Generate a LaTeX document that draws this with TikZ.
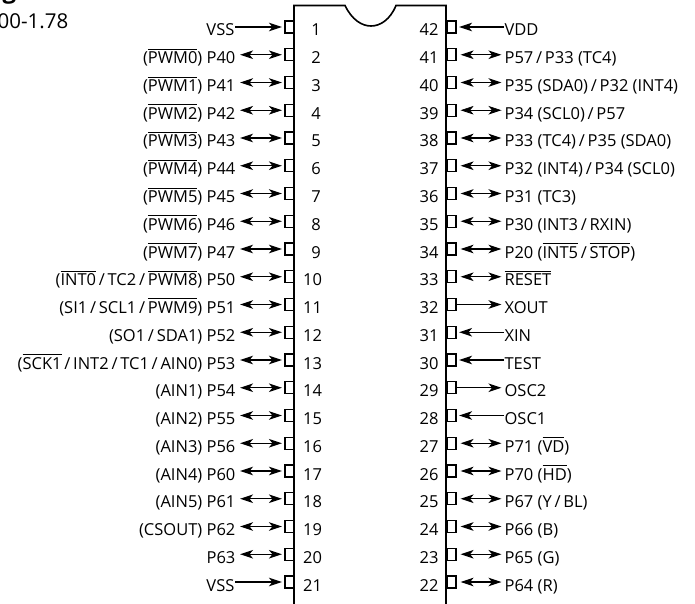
\documentclass[tikz,border=0pt]{standalone}
\usepackage{fontspec}
\setmainfont{Open Sans}
\usetikzlibrary{arrows.meta}
\newcommand{\ovl}[1]{\vbox{\hrule height 0.9pt\kern 2.2pt\hbox{#1}}}
\tikzset{
  pinbox/.style={draw,line width=1.1pt,minimum width=9pt,minimum height=12pt,inner sep=0pt},
  lab/.style={inner sep=0pt,text height=18pt,text depth=0pt,font=\fontsize{16.5}{16.5}\selectfont},
  llab/.style={lab,anchor=east},
  rlab/.style={lab,anchor=west},
  num/.style={lab,anchor=center},
  bi/.style={<->,shorten <=4pt,shorten >=2.5pt},
  uni/.style={->,shorten >=2.5pt},
}
\begin{document}
\begin{tikzpicture}[x=1pt,y=-1pt,line width=1.2pt,>={Stealth[length=13pt,width=8.5pt,inset=3.5pt]}]
\useasboundingbox (0,0) rectangle (695,604);
\clip (0,0) rectangle (695,604);
\node[anchor=base west,inner sep=0pt,font=\fontsize{24}{24}\selectfont\bfseries] (title) at (2,-1) {g};
\node[anchor=base west,inner sep=0pt,font=\fontsize{20.5}{20.5}\selectfont] (part) at (-3,29) {00-1.78};
\draw[line width=1.6pt] (294,604) -- (294,5.5) -- (345,5.5) .. controls (352,20) and (362,26) .. (371,26) .. controls (380,26) and (390,20) .. (396,5.5) -- (446,5.5) -- (446,604);
% left side
\node[pinbox] (b1) at (289.5,27) {}; \node[llab] (l1) at (235,27) {VSS}; \node[num] (n1) at (316,27) {1}; \draw[uni] (l1) -- (b1);
\node[pinbox] (b2) at (289.5,54.75) {}; \node[llab] (l2) at (236,54.75) {(\ovl{PWM0}) P40}; \node[num] (n2) at (316,54.75) {2}; \draw[bi] (l2) -- (b2);
\node[pinbox] (b3) at (289.5,82.5) {}; \node[llab] (l3) at (236,82.5) {(\ovl{PWM1}) P41}; \node[num] (n3) at (316,82.5) {3}; \draw[bi] (l3) -- (b3);
\node[pinbox] (b4) at (289.5,110.25) {}; \node[llab] (l4) at (236,110.25) {(\ovl{PWM2}) P42}; \node[num] (n4) at (316,110.25) {4}; \draw[bi,line width=0.7pt] (l4) -- (b4);
\node[pinbox] (b5) at (289.5,138) {}; \node[llab] (l5) at (236,138) {(\ovl{PWM3}) P43}; \node[num] (n5) at (316,138) {5}; \draw[bi] (l5) -- (b5);
\node[pinbox] (b6) at (289.5,165.75) {}; \node[llab] (l6) at (236,165.75) {(\ovl{PWM4}) P44}; \node[num] (n6) at (316,165.75) {6}; \draw[bi] (l6) -- (b6);
\node[pinbox] (b7) at (289.5,193.5) {}; \node[llab] (l7) at (236,193.5) {(\ovl{PWM5}) P45}; \node[num] (n7) at (316,193.5) {7}; \draw[bi] (l7) -- (b7);
\node[pinbox] (b8) at (289.5,221.25) {}; \node[llab] (l8) at (236,221.25) {(\ovl{PWM6}) P46}; \node[num] (n8) at (316,221.25) {8}; \draw[bi] (l8) -- (b8);
\node[pinbox] (b9) at (289.5,249) {}; \node[llab] (l9) at (236,249) {(\ovl{PWM7}) P47}; \node[num] (n9) at (316,249) {9}; \draw[bi] (l9) -- (b9);
\node[pinbox] (b10) at (289.5,276.75) {}; \node[llab] (l10) at (236,276.75) {(\ovl{INT0}\,/\,TC2\,/\,\ovl{PWM8}) P50}; \node[num] (n10) at (312.5,276.75) {10}; \draw[bi] (l10) -- (b10);
\node[pinbox] (b11) at (289.5,304.5) {}; \node[llab] (l11) at (236,304.5) {(SI1\,/\,SCL1\,/\,\ovl{PWM9}) P51}; \node[num] (n11) at (312.5,304.5) {11}; \draw[bi] (l11) -- (b11);
\node[pinbox] (b12) at (289.5,332.25) {}; \node[llab] (l12) at (236,332.25) {(SO1\,/\,SDA1) P52}; \node[num] (n12) at (312.5,332.25) {12}; \draw[bi] (l12) -- (b12);
\node[pinbox] (b13) at (289.5,360) {}; \node[llab] (l13) at (236,360) {(\ovl{SCK1}\,/\,INT2\,/\,TC1\,/\,AIN0) P53}; \node[num] (n13) at (312.5,360) {13}; \draw[bi] (l13) -- (b13);
\node[pinbox] (b14) at (289.5,387.75) {}; \node[llab] (l14) at (236,387.75) {(AIN1) P54}; \node[num] (n14) at (312.5,387.75) {14}; \draw[bi] (l14) -- (b14);
\node[pinbox] (b15) at (289.5,415.5) {}; \node[llab] (l15) at (236,415.5) {(AIN2) P55}; \node[num] (n15) at (312.5,415.5) {15}; \draw[bi] (l15) -- (b15);
\node[pinbox] (b16) at (289.5,443.25) {}; \node[llab] (l16) at (236,443.25) {(AIN3) P56}; \node[num] (n16) at (312.5,443.25) {16}; \draw[bi] (l16) -- (b16);
\node[pinbox] (b17) at (289.5,471) {}; \node[llab] (l17) at (236,471) {(AIN4) P60}; \node[num] (n17) at (312.5,471) {17}; \draw[bi] (l17) -- (b17);
\node[pinbox] (b18) at (289.5,498.75) {}; \node[llab] (l18) at (236,498.75) {(AIN5) P61}; \node[num] (n18) at (312.5,498.75) {18}; \draw[bi] (l18) -- (b18);
\node[pinbox] (b19) at (289.5,526.5) {}; \node[llab] (l19) at (236,526.5) {(CSOUT) P62}; \node[num] (n19) at (312.5,526.5) {19}; \draw[bi] (l19) -- (b19);
\node[pinbox] (b20) at (289.5,554.25) {}; \node[llab] (l20) at (236,554.25) {P63}; \node[num] (n20) at (312.5,554.25) {20}; \draw[bi] (l20) -- (b20);
\node[pinbox] (b21) at (289.5,582) {}; \node[llab] (l21) at (235,582) {VSS}; \node[num] (n21) at (312.5,582) {21}; \draw[uni] (l21) -- (b21);
% right side
\node[pinbox] (b42) at (451.5,27) {}; \node[rlab] (l42) at (504,27) {VDD}; \node[num] (n42) at (429,27) {42}; \draw[uni] (l42) -- (b42);
\node[pinbox] (b41) at (451.5,54.75) {}; \node[rlab] (l41) at (504,54.75) {P57\,/\,P33 (TC4)}; \node[num] (n41) at (429,54.75) {41}; \draw[bi] (b41) -- (l41);
\node[pinbox] (b40) at (451.5,82.5) {}; \node[rlab] (l40) at (504,82.5) {P35 (SDA0)\,/\,P32 (INT4)}; \node[num] (n40) at (429,82.5) {40}; \draw[bi] (b40) -- (l40);
\node[pinbox] (b39) at (451.5,110.25) {}; \node[rlab] (l39) at (504,110.25) {P34 (SCL0)\,/\,P57}; \node[num] (n39) at (429,110.25) {39}; \draw[bi,line width=0.7pt] (b39) -- (l39);
\node[pinbox] (b38) at (451.5,138) {}; \node[rlab] (l38) at (504,138) {P33 (TC4)\,/\,P35 (SDA0)}; \node[num] (n38) at (429,138) {38}; \draw[bi] (b38) -- (l38);
\node[pinbox] (b37) at (451.5,165.75) {}; \node[rlab] (l37) at (504,165.75) {P32 (INT4)\,/\,P34 (SCL0)}; \node[num] (n37) at (429,165.75) {37}; \draw[bi] (b37) -- (l37);
\node[pinbox] (b36) at (451.5,193.5) {}; \node[rlab] (l36) at (504,193.5) {P31 (TC3)}; \node[num] (n36) at (429,193.5) {36}; \draw[bi] (b36) -- (l36);
\node[pinbox] (b35) at (451.5,221.25) {}; \node[rlab] (l35) at (504,221.25) {P30 (INT3\,/\,RXIN)}; \node[num] (n35) at (429,221.25) {35}; \draw[bi] (b35) -- (l35);
\node[pinbox] (b34) at (451.5,249) {}; \node[rlab] (l34) at (504,249) {P20 (\ovl{INT5}\,/\,\ovl{STOP})}; \node[num] (n34) at (429,249) {34}; \draw[bi] (b34) -- (l34);
\node[pinbox] (b33) at (451.5,276.75) {}; \node[rlab] (l33) at (504,276.75) {\ovl{RESET}}; \node[num] (n33) at (429,276.75) {33}; \draw[bi] (b33) -- (l33);
\node[pinbox] (b32) at (451.5,304.5) {}; \node[rlab] (l32) at (504,304.5) {XOUT}; \node[num] (n32) at (429,304.5) {32}; \draw[uni] (b32) -- (l32);
\node[pinbox] (b31) at (451.5,332.25) {}; \node[rlab] (l31) at (504,332.25) {XIN}; \node[num] (n31) at (429,332.25) {31}; \draw[uni] (l31) -- (b31);
\node[pinbox] (b30) at (451.5,360) {}; \node[rlab] (l30) at (504,360) {TEST}; \node[num] (n30) at (429,360) {30}; \draw[uni] (l30) -- (b30);
\node[pinbox] (b29) at (451.5,387.75) {}; \node[rlab] (l29) at (504,387.75) {OSC2}; \node[num] (n29) at (429,387.75) {29}; \draw[uni] (b29) -- (l29);
\node[pinbox] (b28) at (451.5,415.5) {}; \node[rlab] (l28) at (504,415.5) {OSC1}; \node[num] (n28) at (429,415.5) {28}; \draw[uni] (l28) -- (b28);
\node[pinbox] (b27) at (451.5,443.25) {}; \node[rlab] (l27) at (504,443.25) {P71 (\ovl{VD})}; \node[num] (n27) at (429,443.25) {27}; \draw[bi] (b27) -- (l27);
\node[pinbox] (b26) at (451.5,471) {}; \node[rlab] (l26) at (504,471) {P70 (\ovl{HD})}; \node[num] (n26) at (429,471) {26}; \draw[bi] (b26) -- (l26);
\node[pinbox] (b25) at (451.5,498.75) {}; \node[rlab] (l25) at (504,498.75) {P67 (Y\,/\,BL)}; \node[num] (n25) at (429,498.75) {25}; \draw[bi] (b25) -- (l25);
\node[pinbox] (b24) at (451.5,526.5) {}; \node[rlab] (l24) at (504,526.5) {P66 (B)}; \node[num] (n24) at (429,526.5) {24}; \draw[bi] (b24) -- (l24);
\node[pinbox] (b23) at (451.5,554.25) {}; \node[rlab] (l23) at (504,554.25) {P65 (G)}; \node[num] (n23) at (429,554.25) {23}; \draw[bi] (b23) -- (l23);
\node[pinbox] (b22) at (451.5,582) {}; \node[rlab] (l22) at (504,582) {P64 (R)}; \node[num] (n22) at (429,582) {22}; \draw[bi] (b22) -- (l22);
\end{tikzpicture}
\end{document}
